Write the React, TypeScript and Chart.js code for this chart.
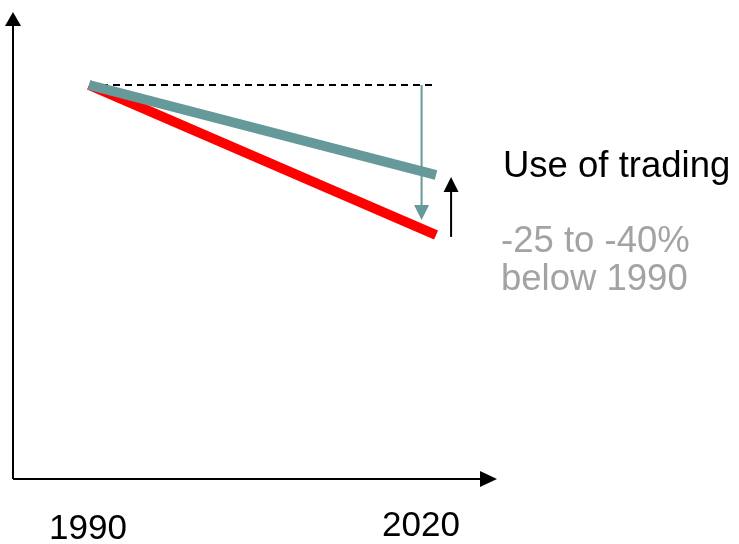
import React, { useEffect, useRef } from "react";
import { Chart, registerables } from "chart.js";

Chart.register(...registerables);

// ---- data ----
const years = [1990, 2020];
const tickLabels = ["1990", "2020"];
const domesticPath = [100, 60]; // red: reductions without trading (-40%)
const tradingPath = [100, 76]; // teal: with use of trading (~-25%)
const baselineYears = [1990, 2019.65];
const baselineValues = [100, 100];
// arrows: [x(year), fromValue, toValue]
const tradingArrow = [2018.75, 100, 64];
const gapArrow = [2021.3, 59.5, 75.5];
const titleText = "Use of trading";
const rangeLines = ["-25 to -40%", "below 1990"];

const FONT = "'Liberation Sans', Arial, Helvetica, sans-serif";
const TEAL = "#669999";

function arrowHead(ctx: CanvasRenderingContext2D, tipX: number, tipY: number, dir: string, len: number, half: number, color: string) {
  ctx.beginPath();
  ctx.fillStyle = color;
  if (dir === "up") {
    ctx.moveTo(tipX, tipY);
    ctx.lineTo(tipX - half, tipY + len);
    ctx.lineTo(tipX + half, tipY + len);
  } else if (dir === "down") {
    ctx.moveTo(tipX, tipY);
    ctx.lineTo(tipX - half, tipY - len);
    ctx.lineTo(tipX + half, tipY - len);
  } else {
    ctx.moveTo(tipX, tipY);
    ctx.lineTo(tipX - len, tipY - half);
    ctx.lineTo(tipX - len, tipY + half);
  }
  ctx.closePath();
  ctx.fill();
}

const decorPlugin = {
  id: "decor",
  beforeDatasetsDraw(chart: any) {
    const ctx: CanvasRenderingContext2D = chart.ctx;
    const { left, right, top, bottom } = chart.chartArea;
    ctx.save();
    ctx.strokeStyle = "#000";
    ctx.lineWidth = 2;
    ctx.beginPath();
    ctx.moveTo(left, bottom);
    ctx.lineTo(left, top + 10);
    ctx.moveTo(left, bottom);
    ctx.lineTo(right - 10, bottom);
    ctx.stroke();
    arrowHead(ctx, left, top, "up", 14, 8, "#000");
    arrowHead(ctx, right, bottom, "right", 17, 8, "#000");
    ctx.restore();
  },
  afterDatasetsDraw(chart: any) {
    const ctx: CanvasRenderingContext2D = chart.ctx;
    const xs = chart.scales.x;
    const ys = chart.scales.y;
    ctx.save();
    // teal down arrow
    {
      const x = xs.getPixelForValue(tradingArrow[0]);
      const y0 = ys.getPixelForValue(tradingArrow[1]);
      const y1 = ys.getPixelForValue(tradingArrow[2]);
      ctx.strokeStyle = TEAL;
      ctx.lineWidth = 2;
      ctx.beginPath();
      ctx.moveTo(x, y0);
      ctx.lineTo(x, y1 - 10);
      ctx.stroke();
      arrowHead(ctx, x, y1, "down", 15, 7.5, TEAL);
    }
    // black up arrow
    {
      const x = xs.getPixelForValue(gapArrow[0]);
      const y0 = ys.getPixelForValue(gapArrow[1]);
      const y1 = ys.getPixelForValue(gapArrow[2]);
      ctx.strokeStyle = "#000";
      ctx.lineWidth = 2;
      ctx.beginPath();
      ctx.moveTo(x, y0);
      ctx.lineTo(x, y1 + 10);
      ctx.stroke();
      arrowHead(ctx, x, y1, "up", 15, 7.5, "#000");
    }
    // tick labels
    ctx.font = `35px ${FONT}`;
    ctx.fillStyle = "#000";
    ctx.textAlign = "center";
    ctx.textBaseline = "alphabetic";
    const labelOffsets = [[-1, 539], [-15, 536]];
    years.forEach((yr, i) => {
      const px = xs.getPixelForValue(yr);
      ctx.fillText(tickLabels[i], px + labelOffsets[i][0], labelOffsets[i][1]);
    });
    // annotation text
    ctx.font = `36.5px ${FONT}`;
    ctx.textAlign = "left";
    ctx.fillStyle = "#000";
    ctx.fillText(titleText, 503, 177);
    ctx.fillStyle = "#a3a3a3";
    ctx.fillText(rangeLines[0], 501, 252);
    ctx.fillText(rangeLines[1], 501, 290);
    ctx.restore();
  },
};

export default function App() {
  const ref = useRef<HTMLCanvasElement>(null);
  useEffect(() => {
    if (!ref.current) return;
    const chart = new Chart(ref.current, {
      type: "line",
      data: {
        datasets: [
          {
            label: "With trading",
            data: years.map((x, i) => ({ x, y: tradingPath[i] })),
            borderColor: TEAL,
            borderWidth: 10,
            borderCapStyle: "butt",
            pointRadius: 0,
            order: 0,
          },
          {
            label: "Domestic",
            data: years.map((x, i) => ({ x, y: domesticPath[i] })),
            borderColor: "#ff0000",
            borderWidth: 10,
            borderCapStyle: "butt",
            pointRadius: 0,
            order: 1,
          },
          {
            label: "1990 level",
            data: baselineYears.map((x, i) => ({ x, y: baselineValues[i] })),
            borderColor: "#000",
            borderWidth: 2,
            borderDash: [7, 5],
            pointRadius: 0,
            order: 2,
          },
        ],
      },
      options: {
        responsive: false,
        animation: false,
        devicePixelRatio: 1,
        layout: { padding: { left: 13, right: 242, top: 12, bottom: 65 } },
        plugins: { legend: { display: false }, tooltip: { enabled: false } },
        scales: {
          x: { type: "linear", min: 1983.43, max: 2025.27, display: false },
          y: { type: "linear", min: -5.07, max: 119.47, display: false },
        },
      },
      plugins: [decorPlugin],
    } as any);
    return () => chart.destroy();
  }, []);
  return (
    <div style={{ position: "fixed", left: 0, top: 0, width: 739, height: 544, background: "#fff" }}>
      <canvas ref={ref} width={739} height={544} />
    </div>
  );
}
